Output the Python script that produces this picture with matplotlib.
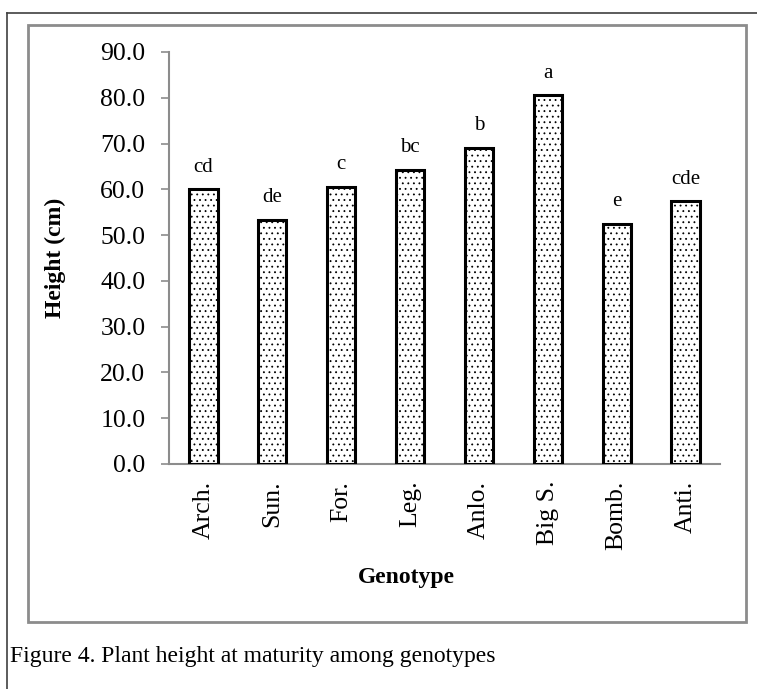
import matplotlib
matplotlib.use('Agg')
from matplotlib import pyplot as plt
from matplotlib.patches import Rectangle
from matplotlib.lines import Line2D

# Dados do gráfico
genotypes = ['Arch.', 'Sun.', 'For.', 'Leg.', 'Anlo.', 'Big S.', 'Bomb.', 'Anti.']
heights = [60.0, 53.4, 60.6, 64.2, 69.0, 80.5, 52.4, 57.4]
letters = ['cd', 'de', 'c', 'bc', 'b', 'a', 'e', 'cde']
yticks = [0, 10, 20, 30, 40, 50, 60, 70, 80, 90]

plt.rcParams['font.family'] = ['Liberation Serif', 'DejaVu Serif']
plt.rcParams['hatch.linewidth'] = 0.6

W, H = 757, 689
fig = plt.figure(figsize=(W / 100, H / 100), dpi=100)

# Molduras (pixels -> coordenadas da figura)
def fx(px):
    return px / W

def fy(py):
    return 1 - py / H

fig.add_artist(Line2D([fx(7), 1], [fy(13), fy(13)], color='#404040', lw=1.2))
fig.add_artist(Line2D([fx(7), fx(7)], [fy(13), 0], color='#404040', lw=1.2))
fig.add_artist(Rectangle((fx(28), fy(622)), fx(746) - fx(28), fy(25) - fy(622),
                         fill=False, edgecolor='#8c8c8c', lw=2))

# Eixos
ax = fig.add_axes([fx(169), fy(464), fx(720) - fx(169), fy(52) - fy(464)])
x = list(range(len(genotypes)))
ax.bar(x, heights, width=0.41, color='white', edgecolor='black', linewidth=2.2,
       hatch='...', zorder=3)

for i, h in enumerate(heights):
    ax.annotate(letters[i], (i, h), xytext=(0, 16), textcoords='offset points',
                ha='center', va='center', fontsize=15)

ax.set_xlim(-0.5, len(genotypes) - 0.5)
ax.set_ylim(0, 90)
ax.set_yticks(yticks)
ax.set_yticklabels(['%.1f' % v for v in yticks], fontsize=18.5)
ax.set_xticks(x)
ax.set_xticklabels(genotypes, rotation=90, fontsize=18.5)
ax.tick_params(axis='x', length=0, pad=12)
ax.tick_params(axis='y', length=6, width=1.2, color='#8c8c8c', pad=11)

for s in ['top', 'right']:
    ax.spines[s].set_visible(False)
for s in ['left', 'bottom']:
    ax.spines[s].set_color('#8c8c8c')
    ax.spines[s].set_linewidth(1.5)

fig.text(fx(406), fy(577), 'Genotype', ha='center', va='center',
         fontsize=17, fontweight='bold')
fig.text(fx(55), fy(258), 'Height (cm)', ha='center', va='center',
         fontsize=17, fontweight='bold', rotation=90)
fig.text(fx(10), fy(662), 'Figure 4. Plant height at maturity among genotypes',
         ha='left', va='baseline', fontsize=17)

plt.savefig('out.png', dpi=100)
